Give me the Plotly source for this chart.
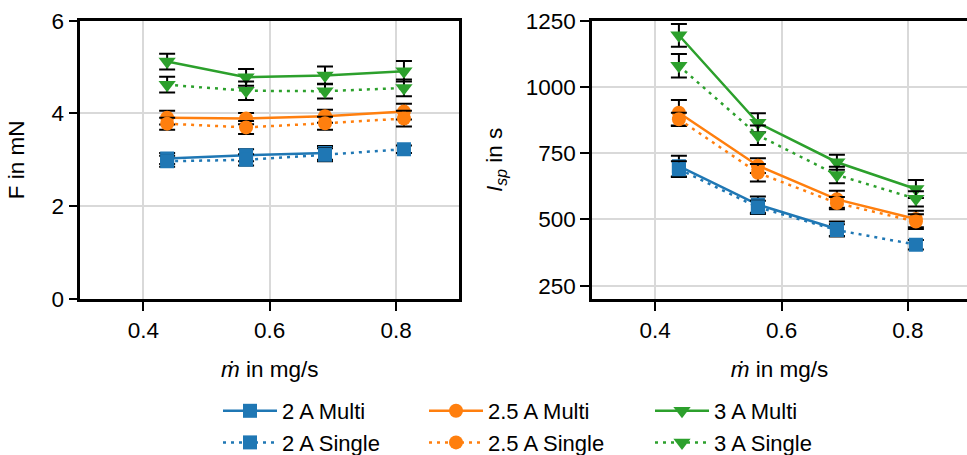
import plotly.graph_objects as go

# ---------------- data ----------------
mdot = [0.4375, 0.5625, 0.6875, 0.8125]
mdot_2a_multi = [0.4375, 0.5625, 0.6875]

series_names = ["2 A Multi", "2 A Single", "2.5 A Multi", "2.5 A Single", "3 A Multi", "3 A Single"]

# Thrust F in mN
F_2a_multi = [3.03, 3.10, 3.15]
F_2a_single = [2.97, 3.00, 3.11, 3.23]
F_25a_multi = [3.91, 3.89, 3.94, 4.04]
F_25a_single = [3.78, 3.70, 3.79, 3.89]
F_3a_multi = [5.12, 4.78, 4.82, 4.91]
F_3a_single = [4.62, 4.49, 4.48, 4.55]

F_err_2a_multi = [0.12, 0.13, 0.15]
F_err_2a_single = [0.12, 0.12, 0.14, 0.08]
F_err_25a_multi = [0.15, 0.12, 0.14, 0.17]
F_err_25a_single = [0.13, 0.14, 0.14, 0.17]
F_err_3a_multi = [0.17, 0.18, 0.19, 0.22]
F_err_3a_single = [0.17, 0.20, 0.16, 0.18]

# Specific impulse Isp in s
I_2a_multi = [701, 556, 464]
I_2a_single = [690, 546, 460, 405]
I_25a_multi = [903, 703, 576, 502]
I_25a_single = [878, 676, 562, 492]
I_3a_multi = [1195, 865, 716, 615]
I_3a_single = [1080, 818, 668, 578]

I_err_2a_multi = [39, 31, 28]
I_err_2a_single = [30, 25, 22, 18]
I_err_25a_multi = [48, 28, 32, 31]
I_err_25a_single = [25, 33, 23, 28]
I_err_3a_multi = [43, 36, 28, 34]
I_err_3a_single = [44, 37, 31, 29]

x_ticks = [0.4, 0.6, 0.8]
F_ticks = [0, 2, 4, 6]
I_ticks = [250, 500, 750, 1000, 1250]

# ---------------- style ----------------
C_BLUE, C_ORANGE, C_GREEN = "#1f77b4", "#ff7f0e", "#2ca02c"
FONT = "Liberation Sans, Arial, Helvetica, sans-serif"
FS = 22.5
FS_LEG = 22

series = [
    ("2 A Multi", mdot_2a_multi, F_2a_multi, F_err_2a_multi, I_2a_multi, I_err_2a_multi, C_BLUE, "square", "solid", "legend"),
    ("2 A Single", mdot, F_2a_single, F_err_2a_single, I_2a_single, I_err_2a_single, C_BLUE, "square", "3px,5px", "legend"),
    ("2.5 A Multi", mdot, F_25a_multi, F_err_25a_multi, I_25a_multi, I_err_25a_multi, C_ORANGE, "circle", "solid", "legend2"),
    ("2.5 A Single", mdot, F_25a_single, F_err_25a_single, I_25a_single, I_err_25a_single, C_ORANGE, "circle", "3px,5px", "legend2"),
    ("3 A Multi", mdot, F_3a_multi, F_err_3a_multi, I_3a_multi, I_err_3a_multi, C_GREEN, "triangle-down", "solid", "legend3"),
    ("3 A Single", mdot, F_3a_single, F_err_3a_single, I_3a_single, I_err_3a_single, C_GREEN, "triangle-down", "3px,5px", "legend3"),
]

fig = go.Figure()
for name, xs, fv, fe, iv, ie, col, sym, dash, leg in series:
    msize = 15 if sym == "triangle-down" else 14
    common = dict(
        mode="lines+markers",
        line=dict(color=col, width=2.5, dash=dash),
        marker=dict(symbol=sym, size=msize, color=col, line=dict(width=0)),
    )
    fig.add_trace(go.Scatter(
        x=xs, y=fv, name=name, legend=leg, showlegend=True,
        error_y=dict(type="data", array=fe, color="black", thickness=2, width=8),
        xaxis="x", yaxis="y", **common))
    fig.add_trace(go.Scatter(
        x=xs, y=iv, name=name, showlegend=False,
        error_y=dict(type="data", array=ie, color="black", thickness=2, width=8),
        xaxis="x2", yaxis="y2", **common))

W, H = 967, 455
yd = [1 - 299 / H, 1 - 20.7 / H]

axis_common = dict(
    showline=True, linecolor="black", linewidth=2.5,
    ticks="outside", ticklen=9, tickwidth=2, tickcolor="black",
    showgrid=True, gridcolor="#d9d9d9", gridwidth=1.5,
    zeroline=False, automargin=False,
    tickfont=dict(family=FONT, size=FS, color="black"),
    title_font=dict(family=FONT, size=FS, color="black"),
)

fig.update_layout(
    width=W, height=H,
    margin=dict(l=0, r=0, t=0, b=0, autoexpand=False),
    paper_bgcolor="white", plot_bgcolor="white",
    font=dict(family=FONT, size=FS, color="black"),
    xaxis=dict(domain=[80.3 / W, 459.2 / W], range=[0.3, 0.9], tickvals=x_ticks,
               tickformat=".1f", mirror=True, anchor="y",
               title=dict(text="<i>ṁ</i> in mg/s", standoff=20), **axis_common),
    yaxis=dict(domain=yd, range=[0, 6], tickvals=F_ticks, mirror=True, anchor="x",
               title=dict(text="F in mN", standoff=21), **axis_common),
    xaxis2=dict(domain=[592 / W, 1.0], range=[0.3, 0.3 + (W - 592) / 632.0], tickvals=x_ticks,
                tickformat=".1f", mirror=True, anchor="y2",
                title=dict(text="<i>ṁ</i> in mg/s", standoff=20), **axis_common),
    yaxis2=dict(domain=yd, range=[200, 1250], tickvals=I_ticks, mirror=False, anchor="x2",
                title=dict(text="<i>I<sub>sp</sub></i> in s", standoff=17), **axis_common),
)

leg_common = dict(orientation="v", xanchor="left", yanchor="top",
                  font=dict(family=FONT, size=FS_LEG, color="black"),
                  bgcolor="rgba(0,0,0,0)", itemwidth=54, tracegroupgap=0)
legend_top = 1 - 390 / H
fig.update_layout(
    legend=dict(x=218 / W, y=legend_top, **leg_common),
    legend2=dict(x=424 / W, y=legend_top, **leg_common),
    legend3=dict(x=650 / W, y=legend_top, **leg_common),
)

fig.write_html("out.html")
